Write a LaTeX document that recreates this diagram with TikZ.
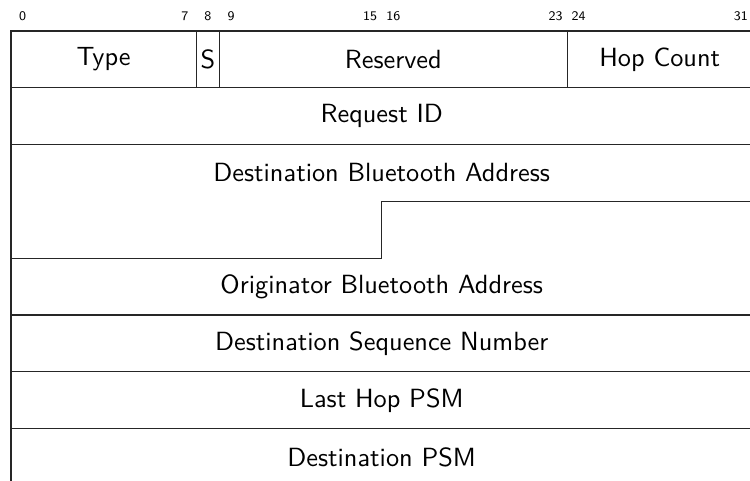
\documentclass[tikz,border=0pt]{standalone}
\begin{document}
\begin{tikzpicture}[x=0.38pt,y=-0.38pt,
  rule/.style={line width=0.42pt,black!85},
  field/.style={font=\sffamily\fontsize{10}{12}\selectfont,inner sep=0pt},
  bitnum/.style={font=\sffamily\fontsize{5}{6}\selectfont,inner sep=0pt,anchor=base}]
\clip (0,0) rectangle (750,481);
% geometry: bit width and row height (px-like units)
\def\bw{23.17}
\def\xo{11}
\def\rh{56.8}
\def\yt{31}
% bit numbers
\foreach \b/\n in {0/b0,7/b7,8/b8,9/b9,15/b15,16/b16,23/b23,24/b24,31/b31}
  \node[bitnum] (\n) at ({\xo+(\b+0.5)*\bw},20.7) {\b};
% outer border and row rules
\coordinate (tl) at (\xo,\yt);
\coordinate (tr) at ({\xo+32*\bw},\yt);
\draw[rule] (\xo,520) -- (tl) -- (tr) -- ({\xo+32*\bw},520);
\foreach \r in {1,2,5,6,7,8}
  \draw[rule] (\xo,{\yt+\r*\rh}) -- ({\xo+32*\bw},{\yt+\r*\rh});
% stepped boundary between the two 48-bit addresses
\coordinate (s1) at (\xo,{\yt+4*\rh});
\coordinate (s2) at ({\xo+16*\bw},{\yt+4*\rh});
\coordinate (s3) at ({\xo+16*\bw},{\yt+3*\rh});
\coordinate (s4) at ({\xo+32*\bw},{\yt+3*\rh});
\draw[rule] (s1) -- (s2) -- (s3) -- (s4);
% dividers in the first word
\foreach \b in {8,9,24}
  \draw[rule] ({\xo+\b*\bw},\yt) -- ({\xo+\b*\bw},{\yt+\rh});
% field labels
\node[field] (type) at ({\xo+4*\bw},{\yt+0.5*\rh}) {Type};
\node[field] (s) at ({\xo+8.5*\bw},{\yt+0.5*\rh}) {S};
\node[field] (res) at ({\xo+16.5*\bw},{\yt+0.5*\rh}) {Reserved};
\node[field] (hop) at ({\xo+28*\bw},{\yt+0.5*\rh}) {Hop Count};
\node[field] (rid) at ({\xo+16*\bw},{\yt+1.5*\rh}) {Request ID};
\node[field] (dba) at ({\xo+16*\bw},{\yt+2.5*\rh}) {Destination Bluetooth Address};
\node[field] (oba) at ({\xo+16*\bw},{\yt+4.5*\rh}) {Originator Bluetooth Address};
\node[field] (dsn) at ({\xo+16*\bw},{\yt+5.5*\rh}) {Destination Sequence Number};
\node[field] (lhp) at ({\xo+16*\bw},{\yt+6.5*\rh}) {Last Hop PSM};
\node[field] (dpsm) at ({\xo+16*\bw},{\yt+7.5*\rh}) {Destination PSM};
\end{tikzpicture}
\end{document}
